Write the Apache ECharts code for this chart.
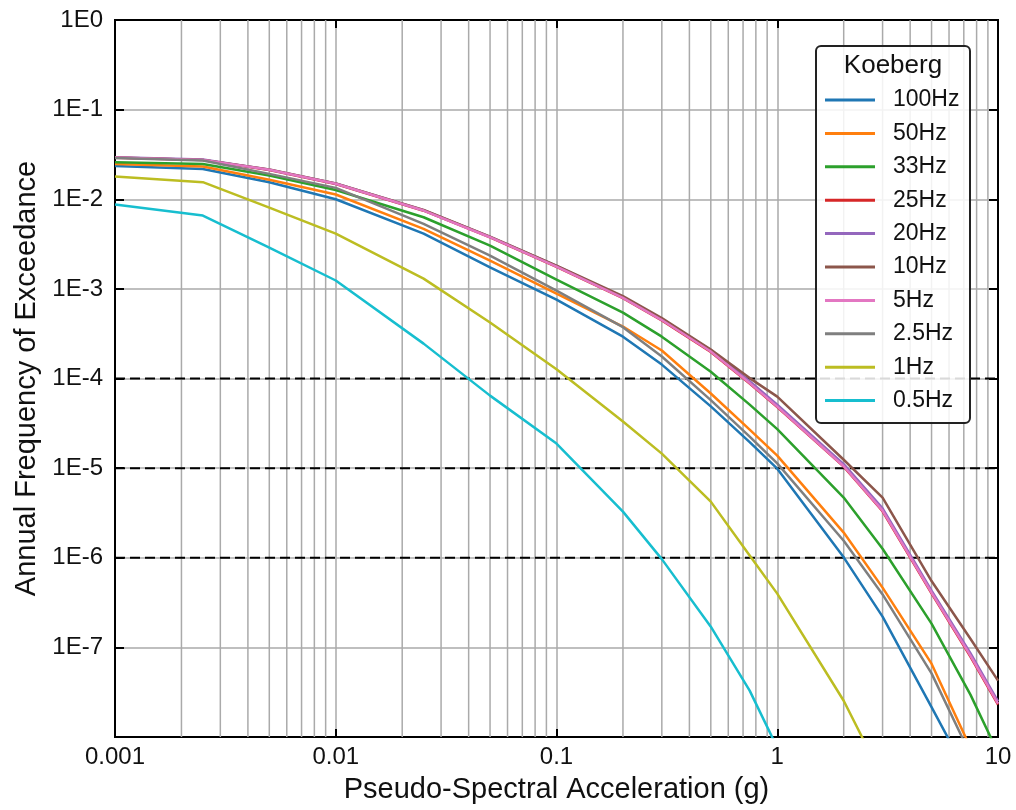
<!DOCTYPE html>
<html><head><meta charset="utf-8">
<script src="https://cdn.jsdelivr.net/npm/echarts@6/dist/echarts.min.js"></script>
<style>html,body{margin:0;padding:0;background:#fff}#chart{width:1016px;height:810px}</style>
</head><body><div id="chart"></div>
<script>
// Pseudo-spectral acceleration (g)
const xValues = [0.001, 0.0025, 0.005, 0.01, 0.025, 0.05, 0.1, 0.2, 0.3, 0.5, 0.75, 1, 2, 3, 5, 7.5, 10];

// Annual frequency of exceedance per spectral frequency
const hz100 = [2.35e-2, 2.18e-2, 1.55e-2, 1.00e-2, 4.14e-3, 1.74e-3, 7.60e-4, 2.93e-4, 1.43e-4, 4.89e-5, 1.95e-5, 9.87e-6, 1.01e-6, 2.20e-7, 2.15e-8, 3.34e-9, 9.0e-10];
const hz50  = [2.47e-2, 2.32e-2, 1.65e-2, 1.13e-2, 4.67e-3, 2.07e-3, 8.86e-4, 3.80e-4, 2.05e-4, 6.80e-5, 2.69e-5, 1.38e-5, 1.91e-6, 4.64e-7, 6.58e-8, 7.60e-9, 1.85e-9];
const hz33  = [2.59e-2, 2.48e-2, 1.84e-2, 1.27e-2, 6.30e-3, 3.04e-3, 1.27e-3, 5.44e-4, 2.93e-4, 1.19e-4, 5.11e-5, 2.72e-5, 4.69e-6, 1.26e-6, 1.84e-7, 2.97e-8, 6.68e-9];
const hz25  = [2.90e-2, 2.74e-2, 2.12e-2, 1.48e-2, 7.45e-3, 3.75e-3, 1.76e-3, 7.90e-4, 4.45e-4, 1.98e-4, 8.80e-5, 4.80e-5, 1.04e-5, 3.30e-6, 4.00e-7, 7.90e-8, 2.30e-8];
const hz20  = [2.94e-2, 2.77e-2, 2.14e-2, 1.50e-2, 7.55e-3, 3.81e-3, 1.80e-3, 8.05e-4, 4.56e-4, 2.08e-4, 9.30e-5, 5.10e-5, 1.11e-5, 3.55e-6, 4.30e-7, 8.60e-8, 2.50e-8];
const hz10  = [2.92e-2, 2.75e-2, 2.15e-2, 1.50e-2, 7.58e-3, 3.83e-3, 1.82e-3, 8.31e-4, 4.72e-4, 2.10e-4, 1.01e-4, 6.28e-5, 1.24e-5, 4.69e-6, 5.50e-7, 1.25e-7, 4.25e-8];
const hz5   = [2.92e-2, 2.75e-2, 2.13e-2, 1.49e-2, 7.48e-3, 3.77e-3, 1.77e-3, 7.94e-4, 4.49e-4, 2.00e-4, 8.89e-5, 4.86e-5, 1.05e-5, 3.36e-6, 4.08e-7, 8.08e-8, 2.35e-8];
const hz2_5 = [2.88e-2, 2.70e-2, 1.92e-2, 1.34e-2, 5.31e-3, 2.35e-3, 9.57e-4, 3.74e-4, 1.76e-4, 5.73e-5, 2.25e-5, 1.13e-5, 1.55e-6, 3.90e-7, 5.13e-8, 6.35e-9, 1.47e-9];
const hz1   = [1.79e-2, 1.55e-2, 8.08e-3, 4.14e-3, 1.30e-3, 4.21e-4, 1.27e-4, 3.32e-5, 1.45e-5, 4.23e-6, 1.06e-6, 3.98e-7, 2.54e-8, 3.51e-9, null, null, null];
const hz0_5 = [8.72e-3, 6.58e-3, 2.89e-3, 1.24e-3, 2.45e-4, 6.44e-5, 1.88e-5, 3.27e-6, 9.65e-7, 1.70e-7, 3.29e-8, 7.60e-9, null, null, null, null, null];

const seriesNames  = ['100Hz', '50Hz', '33Hz', '25Hz', '20Hz', '10Hz', '5Hz', '2.5Hz', '1Hz', '0.5Hz'];
const seriesValues = [hz100, hz50, hz33, hz25, hz20, hz10, hz5, hz2_5, hz1, hz0_5];
const seriesColors = ['#1f77b4', '#ff7f0e', '#2ca02c', '#d62728', '#9467bd', '#8c564b', '#e377c2', '#7f7f7f', '#bcbd22', '#17becf'];

const xTickValues = [0.001, 0.01, 0.1, 1, 10];
const xTickLabels = ['0.001', '0.01', '0.1', '1', '10'];
const yTickValues = [1, 1e-1, 1e-2, 1e-3, 1e-4, 1e-5, 1e-6, 1e-7, 1e-8];
const yTickLabels = ['1E0', '1E-1', '1E-2', '1E-3', '1E-4', '1E-5', '1E-6', '1E-7', ''];
const xMinorGrid = [0.002, 0.003, 0.004, 0.005, 0.006, 0.007, 0.008, 0.009,
                    0.02, 0.03, 0.04, 0.05, 0.06, 0.07, 0.08, 0.09,
                    0.2, 0.3, 0.4, 0.5, 0.6, 0.7, 0.8, 0.9,
                    2, 3, 4, 5, 6, 7, 8, 9];
const refLevels = [1e-4, 1e-5, 1e-6];
const xRange = [0.001, 10];
const yRange = [1e-8, 1];

const FONT = 'Liberation Sans, Arial, Helvetica, sans-serif';
function lookup(vals, labels, v) {
  const i = vals.findIndex(t => Math.abs(Math.log10(t) - Math.log10(v)) < 1e-6);
  return i >= 0 ? labels[i] : '';
}

const chart = echarts.init(document.getElementById('chart'), null, {renderer: 'canvas'});

// minor vertical grid lines (drawn through the axes)
const gridSeries = xMinorGrid.map(v => ({
  type: 'line', data: [[v, yRange[0]], [v, yRange[1]]],
  symbol: 'none', silent: true, z: 1, animation: false, clip: true,
  lineStyle: {color: '#aaaaaa', width: 1.5}, tooltip: {show: false}
}));
// dashed reference levels
const refSeries = refLevels.map(v => ({
  type: 'line', data: [[xRange[0], v], [xRange[1], v]],
  symbol: 'none', silent: true, z: 2, animation: false, clip: true,
  lineStyle: {color: '#000', width: 2, type: [10, 5]}
}));

const lineSeries = seriesNames.map((name, k) => ({
  name: name,
  type: 'line',
  data: xValues.map((x, i) => [x, seriesValues[k][i]]),
  symbol: 'none',
  showSymbol: false,
  connectNulls: false,
  clip: true,
  z: 3,
  color: seriesColors[k],
  lineStyle: {color: seriesColors[k], width: 2.5},
  animation: false
}));

const option = {
  animation: false,
  backgroundColor: '#fff',
  textStyle: {fontFamily: FONT},
  grid: {left: 115, right: 18, top: 20, bottom: 73, show: true, borderColor: '#000', borderWidth: 2, backgroundColor: 'transparent'},
  xAxis: [{
    type: 'log', logBase: 10, min: xRange[0], max: xRange[1], position: 'bottom',
    name: 'Pseudo-Spectral Acceleration (g)', nameLocation: 'middle', nameGap: 38,
    nameTextStyle: {fontSize: 29, color: '#111', fontFamily: FONT},
    axisLine: {show: true, lineStyle: {color: '#000', width: 2}},
    axisTick: {show: true, inside: true, length: 8, lineStyle: {color: '#000', width: 2}},
    axisLabel: {fontSize: 24, color: '#111', margin: 8, fontFamily: FONT,
      formatter: v => lookup(xTickValues, xTickLabels, v)},
    splitLine: {show: true, lineStyle: {color: '#aaaaaa', width: 1.5}}
  }, {
    type: 'log', logBase: 10, min: xRange[0], max: xRange[1], position: 'top',
    axisLine: {show: true, lineStyle: {color: '#000', width: 2}},
    axisTick: {show: true, inside: true, length: 8, lineStyle: {color: '#000', width: 2}},
    axisLabel: {show: false},
    splitLine: {show: false}
  }],
  yAxis: [{
    type: 'log', logBase: 10, min: yRange[0], max: yRange[1], position: 'left',
    name: 'Annual Frequency of Exceedance', nameLocation: 'middle', nameGap: 69,
    nameTextStyle: {fontSize: 29, color: '#111', fontFamily: FONT},
    axisLine: {show: true, lineStyle: {color: '#000', width: 2}},
    axisTick: {show: true, inside: true, length: 9, lineStyle: {color: '#000', width: 2}},
    axisLabel: {fontSize: 24, color: '#111', margin: 12, fontFamily: FONT,
      formatter: v => lookup(yTickValues, yTickLabels, v)},
    splitLine: {show: true, lineStyle: {color: '#aaaaaa', width: 1.5}}
  }, {
    type: 'log', logBase: 10, min: yRange[0], max: yRange[1], position: 'right',
    axisLine: {show: true, lineStyle: {color: '#000', width: 2}},
    axisTick: {show: true, inside: true, length: 9, lineStyle: {color: '#000', width: 2}},
    axisLabel: {show: false},
    splitLine: {show: false}
  }],
  legend: {
    data: seriesNames,
    orient: 'vertical',
    left: 825, top: 88,
    padding: 0,
    itemWidth: 50, itemHeight: 3, itemGap: 9.4,
    icon: 'rect',
    z: 20,
    selectedMode: false,
    textStyle: {fontSize: 23, color: '#111', fontFamily: FONT, lineHeight: 24, padding: [0, 0, 0, 13]}
  },
  graphic: [{
    type: 'rect', z: 10, silent: true,
    shape: {x: 816, y: 46, width: 154, height: 377, r: 5},
    style: {fill: 'rgba(255,255,255,0.85)', stroke: '#222', lineWidth: 2}
  }, {
    type: 'text', z: 11, silent: true,
    x: 893, y: 66,
    style: {text: 'Koeberg', fill: '#111', font: '26px ' + FONT, textAlign: 'center', textVerticalAlign: 'middle'}
  }],
  series: gridSeries.concat(refSeries, lineSeries)
};
chart.setOption(option);
</script></body></html>
